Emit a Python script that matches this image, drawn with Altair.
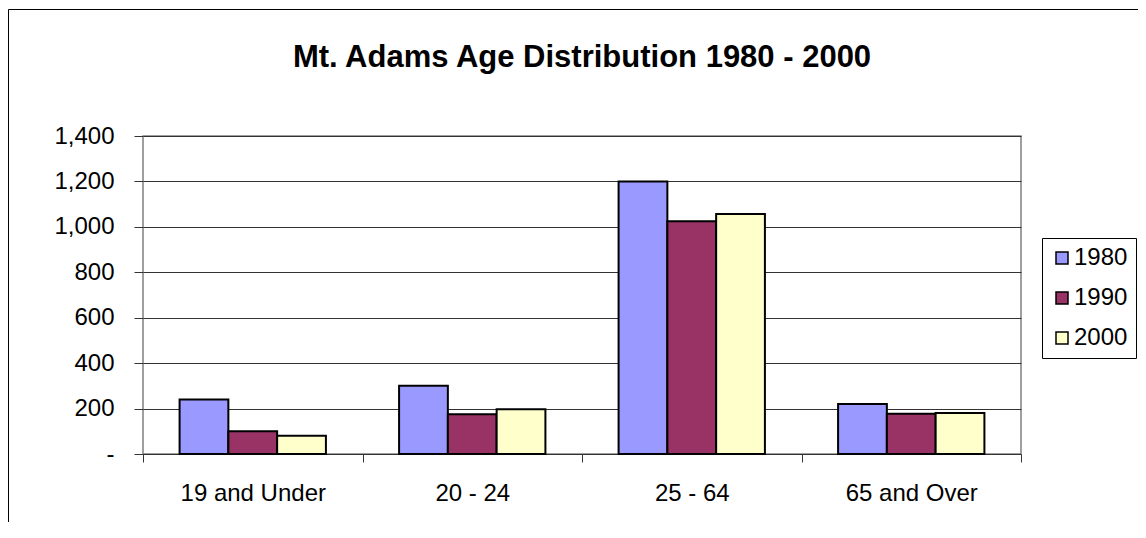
import altair as alt
import pandas as pd

categories = ["19 and Under", "20 - 24", "25 - 64", "65 and Over"]
years = ["1980", "1990", "2000"]
values_1980 = [240, 300, 1200, 220]
values_1990 = [100, 175, 1025, 177]
values_2000 = [80, 197, 1057, 180]
colors = ["#9999FF", "#993366", "#FFFFCC"]
y_ticks = [0, 200, 400, 600, 800, 1000, 1200, 1400]
title_text = "Mt. Adams Age Distribution 1980 - 2000"

rows = []
for yr, vals in zip(years, [values_1980, values_1990, values_2000]):
    for c, v in zip(categories, vals):
        rows.append({"category": c, "year": yr, "value": v})
df = pd.DataFrame(rows)

W, H = 878, 318
PAD_L, PAD_T, PAD_R, PAD_B = 135, 128, 117, 68
FONT = "Liberation Sans"

bars = alt.Chart(df).mark_bar(stroke="black", strokeWidth=2).encode(
    x=alt.X(
        "category:N",
        sort=categories,
        scale=alt.Scale(paddingInner=0, paddingOuter=0),
        axis=alt.Axis(
            title=None, labelAngle=0, tickBand="extent", tickSize=8,
            labelPadding=19, grid=False, labelFontSize=24,
        ),
    ),
    xOffset=alt.XOffset(
        "year:N", sort=years, scale=alt.Scale(paddingInner=0, paddingOuter=0.75)
    ),
    y=alt.Y(
        "value:Q",
        scale=alt.Scale(domain=[0, 1400]),
        axis=alt.Axis(
            title=None, values=y_ticks, tickSize=9, labelPadding=20, grid=True,
            labelFontSize=24,
            labelExpr="datum.value == 0 ? '-' : format(datum.value, ',')",
        ),
    ),
    color=alt.Color(
        "year:N",
        sort=years,
        scale=alt.Scale(domain=years, range=colors),
        legend=alt.Legend(
            title=None, orient="none", legendX=899, legendY=102,
            strokeColor="black", fillColor="white", padding=8,
            symbolType="square", symbolSize=144, symbolStrokeColor="black",
            symbolStrokeWidth=1.5, symbolOpacity=1, labelFontSize=24,
            labelOffset=0, rowPadding=16,
        ),
    ),
)

title = alt.Chart(alt.Data(values=[{"t": title_text}])).mark_text(
    font=FONT, fontSize=31, fontWeight="bold", color="black",
    align="center", baseline="alphabetic",
).encode(x=alt.value(W / 2), y=alt.value(-69), text="t:N")

frame_left = alt.Chart(alt.Data(values=[{}])).mark_rule(color="black", strokeWidth=1).encode(
    x=alt.value(-134.5), y=alt.value(-126.5), y2=alt.value(H + PAD_B)
)
frame_top = alt.Chart(alt.Data(values=[{}])).mark_rule(color="black", strokeWidth=1).encode(
    x=alt.value(-134.5), x2=alt.value(W + PAD_R), y=alt.value(-126.5)
)

chart = (
    alt.layer(bars, title, frame_left, frame_top)
    .properties(
        width=W,
        height=H,
        autosize=alt.AutoSizeParams(type="none"),
        padding={"left": PAD_L, "top": PAD_T, "right": PAD_R, "bottom": PAD_B},
    )
    .configure(font=FONT, background="white")
    .configure_view(stroke="#808080", strokeWidth=1.5)
    .configure_axis(
        labelColor="black", tickColor="#333333", gridColor="#333333",
        domain=False, labelFont=FONT,
    )
    .configure_legend(labelColor="black", labelFont=FONT)
)

chart.save("out.html", embed_options={"renderer": "svg", "actions": False})
